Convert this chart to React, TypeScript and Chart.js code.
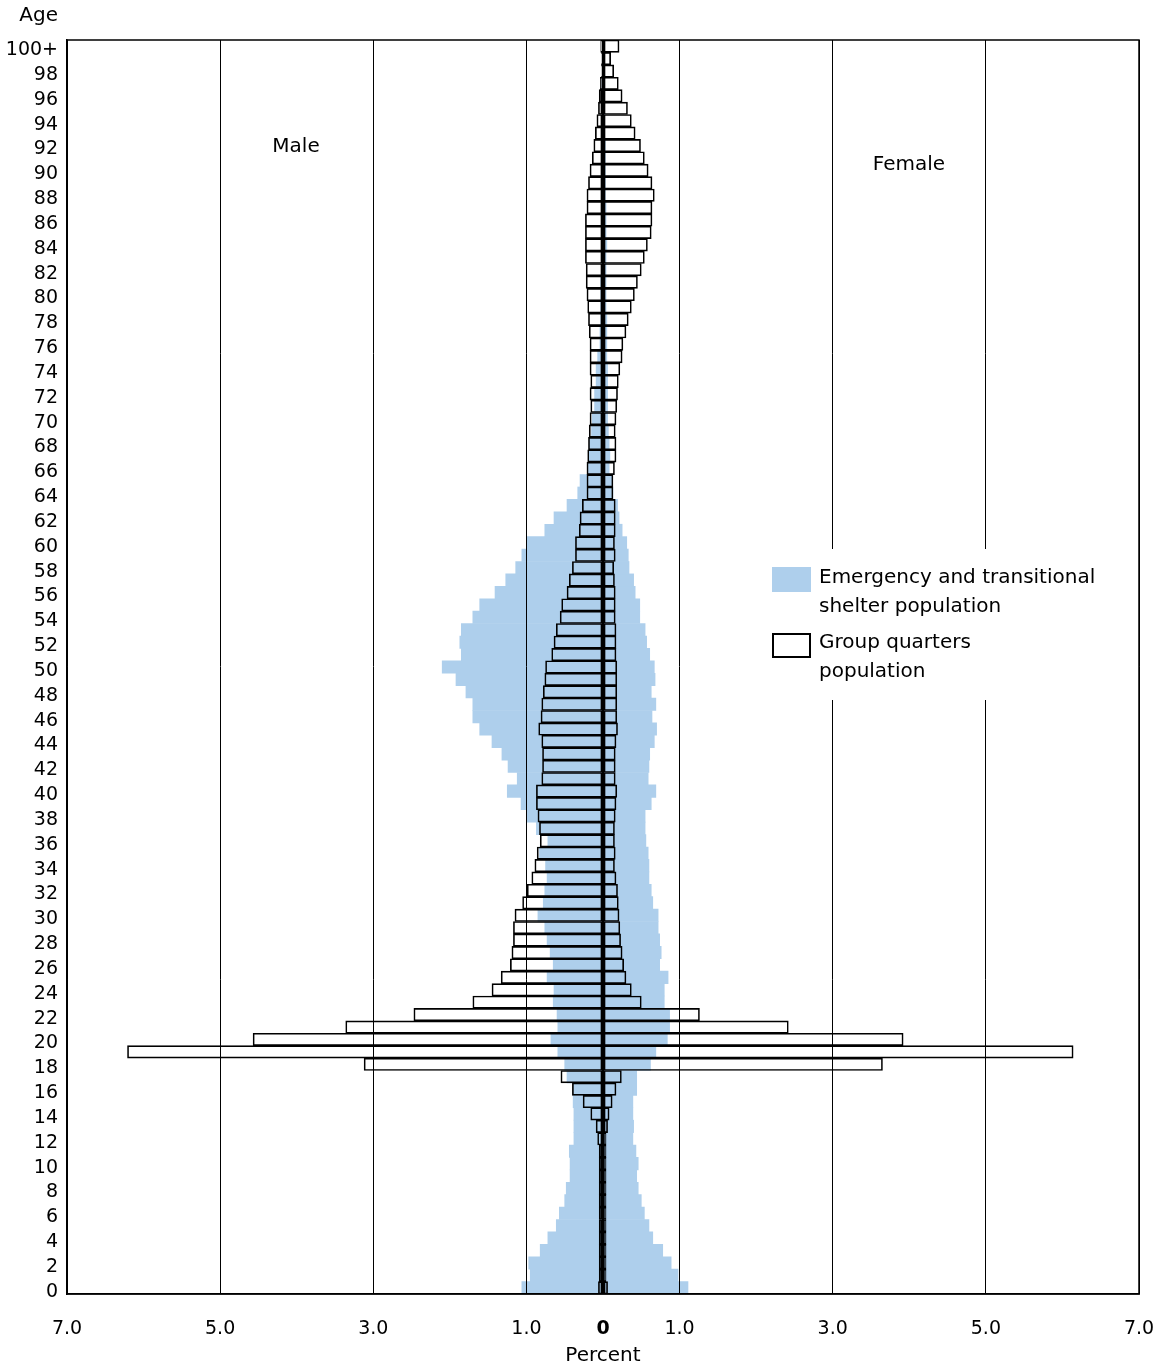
import React, { useEffect, useRef } from "react";
import { Chart, registerables } from "chart.js";

Chart.register(...registerables);

// Ages 0 .. 100+ (index = age)
const ageLabels: string[] = Array.from({ length: 101 }, (_, i) => (i === 100 ? "100+" : String(i)));

// Percent values, index = age (0..100+)
const maleShelter: number[] = [
  1.06, 0.95, 0.97, 0.82, 0.72, 0.61, 0.57, 0.50, 0.48, 0.43,
  0.43, 0.44, 0.38, 0.38, 0.38, 0.39, 0.39, 0.47, 0.50, 0.59,
  0.68, 0.59, 0.60, 0.65, 0.64, 0.73, 0.65, 0.69, 0.73, 0.76,
  0.85, 0.78, 0.76, 0.73, 0.75, 0.83, 0.72, 0.87, 1.00, 1.07,
  1.25, 1.12, 1.24, 1.32, 1.45, 1.61, 1.70, 1.70, 1.79, 1.92,
  2.10, 1.85, 1.87, 1.85, 1.70, 1.61, 1.41, 1.27, 1.14, 1.06,
  0.99, 0.76, 0.64, 0.47, 0.33, 0.30, 0.19, 0.18, 0.18, 0.15,
  0.14, 0.11, 0.11, 0.09, 0.09, 0.07, 0.04, 0.04, 0.03, 0.03,
  0.03, 0.03, 0.02, 0.02, 0.02, 0.02, 0.02, 0.02, 0.02, 0.02,
  0.02, 0.01, 0.01, 0.01, 0.01, 0.01, 0.01, 0.01, 0.0, 0.0,
  0.0,
];

const femaleShelter: number[] = [
  1.11, 0.98, 0.89, 0.78, 0.65, 0.60, 0.54, 0.50, 0.46, 0.44,
  0.46, 0.43, 0.39, 0.40, 0.39, 0.39, 0.44, 0.44, 0.62, 0.69,
  0.84, 0.87, 0.87, 0.80, 0.80, 0.85, 0.74, 0.76, 0.74, 0.72,
  0.72, 0.65, 0.63, 0.60, 0.60, 0.59, 0.56, 0.55, 0.55, 0.63,
  0.69, 0.59, 0.60, 0.61, 0.67, 0.70, 0.64, 0.69, 0.63, 0.68,
  0.67, 0.61, 0.57, 0.55, 0.48, 0.48, 0.42, 0.40, 0.34, 0.33,
  0.31, 0.25, 0.21, 0.19, 0.13, 0.12, 0.08, 0.09, 0.08, 0.07,
  0.06, 0.06, 0.06, 0.06, 0.06, 0.05, 0.05, 0.05, 0.05, 0.04,
  0.04, 0.04, 0.04, 0.04, 0.05, 0.04, 0.04, 0.04, 0.03, 0.03,
  0.03, 0.03, 0.03, 0.02, 0.02, 0.02, 0.02, 0.01, 0.01, 0.01,
  0.0,
];

const maleGroupQuarters: number[] = [
  0.06, 0.05, 0.05, 0.05, 0.05, 0.05, 0.05, 0.05, 0.05, 0.05,
  0.05, 0.05, 0.07, 0.09, 0.16, 0.26, 0.40, 0.55, 3.12, 6.21,
  4.57, 3.36, 2.47, 1.70, 1.45, 1.33, 1.21, 1.19, 1.17, 1.17,
  1.15, 1.05, 0.99, 0.93, 0.89, 0.86, 0.82, 0.83, 0.85, 0.87,
  0.87, 0.80, 0.79, 0.79, 0.80, 0.84, 0.81, 0.80, 0.78, 0.76,
  0.75, 0.67, 0.64, 0.61, 0.56, 0.54, 0.47, 0.44, 0.40, 0.36,
  0.36, 0.31, 0.30, 0.27, 0.21, 0.21, 0.21, 0.20, 0.19, 0.18,
  0.17, 0.16, 0.17, 0.16, 0.17, 0.17, 0.17, 0.18, 0.19, 0.20,
  0.21, 0.22, 0.22, 0.23, 0.23, 0.23, 0.23, 0.21, 0.21, 0.19,
  0.17, 0.14, 0.12, 0.10, 0.08, 0.06, 0.05, 0.035, 0.02, 0.02,
  0.03,
];

const femaleGroupQuarters: number[] = [
  0.06, 0.04, 0.04, 0.04, 0.04, 0.04, 0.04, 0.04, 0.04, 0.04,
  0.04, 0.04, 0.04, 0.06, 0.08, 0.12, 0.17, 0.24, 3.65, 6.14,
  3.92, 2.42, 1.26, 0.50, 0.37, 0.30, 0.27, 0.25, 0.23, 0.22,
  0.21, 0.20, 0.19, 0.17, 0.15, 0.16, 0.15, 0.15, 0.16, 0.17,
  0.18, 0.16, 0.16, 0.16, 0.17, 0.19, 0.18, 0.18, 0.18, 0.18,
  0.18, 0.17, 0.17, 0.17, 0.16, 0.16, 0.16, 0.15, 0.14, 0.16,
  0.15, 0.16, 0.16, 0.16, 0.13, 0.13, 0.15, 0.17, 0.17, 0.16,
  0.17, 0.18, 0.19, 0.20, 0.22, 0.25, 0.26, 0.30, 0.33, 0.37,
  0.41, 0.45, 0.50, 0.54, 0.58, 0.63, 0.64, 0.64, 0.67, 0.64,
  0.59, 0.54, 0.49, 0.42, 0.37, 0.32, 0.25, 0.20, 0.14, 0.10,
  0.21,
];

const xTickValues: number[] = [-7, -5, -3, -1, 0, 1, 3, 5, 7];

const FONT = "'DejaVu Sans', sans-serif";
const SHELTER_BLUE = "rgb(174,207,236)";

const overlayPlugin = {
  id: "overlay",
  afterDraw(chart: any) {
    const { ctx, chartArea } = chart;
    ctx.save();
    // frame of plot
    ctx.strokeStyle = "#000";
    ctx.lineWidth = 1.5;
    ctx.strokeRect(chartArea.left, chartArea.top, chartArea.right - chartArea.left, chartArea.bottom - chartArea.top);

    ctx.fillStyle = "#000";
    ctx.font = `20px ${FONT}`;
    ctx.textBaseline = "middle";
    ctx.textAlign = "right";
    ctx.fillText("Age", 58, 16);
    ctx.textAlign = "center";
    ctx.fillText("Percent", 603, 1356);
    ctx.fillText("Male", 296, 147);
    ctx.fillText("Female", 909, 165);

    // legend
    ctx.fillStyle = "#fff";
    ctx.fillRect(760, 549, 352, 151);
    ctx.fillStyle = SHELTER_BLUE;
    ctx.fillRect(772, 567, 39, 25);
    ctx.strokeStyle = "#000";
    ctx.lineWidth = 2;
    ctx.strokeRect(773, 634, 37, 23);
    ctx.fillStyle = "#000";
    ctx.textAlign = "left";
    ctx.fillText("Emergency and transitional", 819, 578);
    ctx.fillText("shelter population", 819, 607);
    ctx.fillText("Group quarters", 819, 643);
    ctx.fillText("population", 819, 672);
    ctx.restore();
  },
};

export default function App() {
  const canvasRef = useRef<HTMLCanvasElement | null>(null);

  useEffect(() => {
    if (!canvasRef.current) return;
    Chart.defaults.font.family = FONT;
    const chart = new Chart(canvasRef.current, {
      type: "bar",
      data: {
        labels: ageLabels,
        datasets: [
          {
            label: "Group quarters population (male)",
            data: maleGroupQuarters.map((v) => -v),
            backgroundColor: "rgba(0,0,0,0)",
            borderColor: "#000",
            borderWidth: 1,
            borderSkipped: false,
            order: 0,
          },
          {
            label: "Group quarters population (female)",
            data: femaleGroupQuarters,
            backgroundColor: "rgba(0,0,0,0)",
            borderColor: "#000",
            borderWidth: 1,
            borderSkipped: false,
            order: 0,
          },
          {
            label: "Emergency and transitional shelter population (male)",
            data: maleShelter.map((v) => -v),
            backgroundColor: SHELTER_BLUE,
            borderWidth: 0,
            order: 1,
          },
          {
            label: "Emergency and transitional shelter population (female)",
            data: femaleShelter,
            backgroundColor: SHELTER_BLUE,
            borderWidth: 0,
            order: 1,
          },
        ] as any,
      },
      options: {
        indexAxis: "y",
        responsive: false,
        animation: false,
        devicePixelRatio: 1,
        layout: { padding: { left: 0, right: 20, top: 40, bottom: 0 } },
        datasets: {
          bar: { grouped: false, barPercentage: 1, categoryPercentage: 1 },
        } as any,
        plugins: {
          legend: { display: false },
          tooltip: { enabled: false },
          title: { display: false },
        },
        scales: {
          x: {
            type: "linear",
            min: -7,
            max: 7,
            afterBuildTicks: (scale: any) => {
              scale.ticks = xTickValues.map((v) => ({ value: v }));
            },
            afterFit: (scale: any) => {
              scale.height = 73;
              scale.paddingLeft = 0;
              scale.paddingRight = 0;
            },
            grid: {
              color: "#000",
              lineWidth: (c: any) => (c.tick && c.tick.value === 0 ? 2 : 1),
              drawTicks: false,
              z: 1,
            } as any,
            border: { display: true, color: "#000", width: 1.5, z: 2 } as any,
            ticks: {
              padding: 24,
              color: "#000",
              font: (c: any) => ({
                size: 19,
                family: FONT,
                weight: c.tick && c.tick.value === 0 ? "bold" : "normal",
              }),
              callback: (v: any) => (Number(v) === 0 ? "0" : Math.abs(Number(v)).toFixed(1)),
              maxRotation: 0,
              autoSkip: false,
            },
          },
          y: {
            type: "category",
            reverse: true,
            afterFit: (scale: any) => {
              scale.width = 67;
              scale.paddingTop = 0;
              scale.paddingBottom = 0;
            },
            grid: { display: false, drawTicks: false },
            border: { display: true, color: "#000", width: 1.5, z: 2 } as any,
            ticks: {
              autoSkip: false,
              padding: 9,
              labelOffset: 4,
              color: "#000",
              font: { size: 19, family: FONT },
              callback: (_v: any, idx: number) => (idx % 2 === 0 ? ageLabels[idx] : ""),
            },
          },
        },
      } as any,
      plugins: [overlayPlugin],
    });
    return () => chart.destroy();
  }, []);

  return (
    <div style={{ position: "absolute", left: 0, top: 0, width: 1159, height: 1367, background: "#fff" }}>
      <canvas ref={canvasRef} width={1159} height={1367} style={{ width: 1159, height: 1367, display: "block" }} />
    </div>
  );
}
